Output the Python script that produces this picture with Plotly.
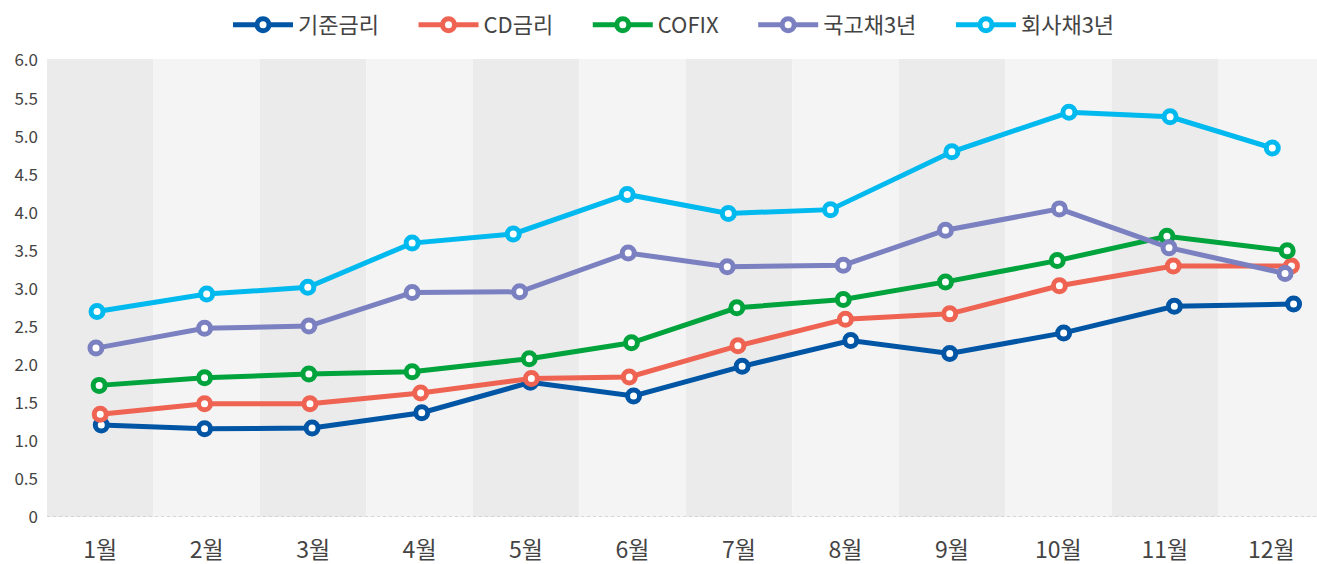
import plotly.graph_objects as go

months = ["1월", "2월", "3월", "4월", "5월", "6월", "7월", "8월", "9월", "10월", "11월", "12월"]
yticks = [0, 0.5, 1.0, 1.5, 2.0, 2.5, 3.0, 3.5, 4.0, 4.5, 5.0, 5.5, 6.0]
ytick_labels = ["0", "0.5", "1.0", "1.5", "2.0", "2.5", "3.0", "3.5", "4.0", "4.5", "5.0", "5.5", "6.0"]

names = ["기준금리", "CD금리", "COFIX", "국고채3년", "회사채3년"]

base_x = [0.01, 0.98, 1.99, 3.02, 4.04, 5.01, 6.03, 7.05, 7.98, 9.05, 10.09, 11.21]
base_y = [1.21, 1.16, 1.17, 1.37, 1.77, 1.59, 1.98, 2.32, 2.15, 2.42, 2.77, 2.80]

cd_x = [0.00, 0.98, 1.97, 3.01, 4.05, 4.97, 5.99, 7.00, 7.98, 9.01, 10.08, 11.19]
cd_y = [1.35, 1.49, 1.49, 1.63, 1.82, 1.84, 2.25, 2.60, 2.67, 3.04, 3.30, 3.30]

cofix_x = [-0.01, 0.98, 1.96, 2.93, 4.03, 4.99, 5.98, 6.98, 7.94, 8.99, 10.02, 11.15]
cofix_y = [1.73, 1.83, 1.88, 1.91, 2.08, 2.29, 2.75, 2.86, 3.09, 3.37, 3.69, 3.50]

gov_x = [-0.04, 0.98, 1.96, 2.93, 3.94, 4.96, 5.89, 6.98, 7.94, 9.01, 10.04, 11.13]
gov_y = [2.22, 2.48, 2.51, 2.95, 2.96, 3.47, 3.29, 3.31, 3.77, 4.05, 3.54, 3.20]

corp_x = [-0.03, 1.00, 1.95, 2.93, 3.88, 4.95, 5.90, 6.86, 8.00, 9.10, 10.05, 11.01]
corp_y = [2.70, 2.93, 3.02, 3.60, 3.72, 4.24, 3.99, 4.04, 4.80, 5.32, 5.26, 4.85]

colors = ["#0055A4", "#EE6352", "#00A33C", "#7B80C0", "#00B9EE"]
series = [(base_x, base_y), (cd_x, cd_y), (cofix_x, cofix_y), (gov_x, gov_y), (corp_x, corp_y)]

FONT = "Noto Sans CJK KR"
PAD = "\u00a0" * 6

fig = go.Figure()
for k, ((xs, ys), name, c) in enumerate(zip(series, names, colors)):
    label = name + (PAD if k < len(names) - 1 else "")
    fig.add_trace(go.Scatter(
        x=xs, y=ys, name=label, mode="lines+markers",
        line=dict(color=c, width=5),
        marker=dict(symbol="circle", size=12, color="white", line=dict(color=c, width=5)),
    ))

shapes = []
for i in range(len(months)):
    shapes.append(dict(
        type="rect", xref="x", yref="paper", x0=i - 0.5, x1=i + 0.5, y0=0, y1=1,
        fillcolor="#EBEBEB" if i % 2 == 0 else "#F4F4F4", line=dict(width=0), layer="below",
    ))
shapes.append(dict(
    type="line", xref="paper", yref="y", x0=0, x1=1, y0=0, y1=0,
    line=dict(color="#BBBBBB", width=1, dash="dot"), layer="below",
))

fig.update_layout(
    width=1317, height=564,
    margin=dict(l=47, r=0, t=59, b=47, autoexpand=False),
    paper_bgcolor="white", plot_bgcolor="white",
    font=dict(family=FONT, color="#444444"),
    shapes=shapes,
    showlegend=True,
    hovermode=False,
    legend=dict(
        orientation="h", xref="container", yref="container",
        x=674 / 1317, xanchor="center", y=1 - 25 / 564, yanchor="middle",
        font=dict(size=22, family=FONT, color="#444444"),
        itemwidth=60, tracegroupgap=0,
        bgcolor="rgba(0,0,0,0)",
    ),
    xaxis=dict(
        range=[-0.5, 11.43], tickvals=list(range(len(months))), ticktext=months,
        showgrid=False, zeroline=False, showline=False, ticks="",
        tickfont=dict(size=23, family=FONT, color="#444444"),
        automargin=False, ticklabelstandoff=17,
    ),
    yaxis=dict(
        range=[0, 6.02], tickvals=yticks, ticktext=ytick_labels,
        showgrid=False, zeroline=False, showline=False, ticks="",
        tickfont=dict(size=17, family=FONT, color="#444444"),
        automargin=False, ticklabelstandoff=8,
    ),
)

fig.write_html(
    "out.html",
    config={"displayModeBar": False},
    post_script="document.body.style.margin='0';document.body.style.overflow='hidden';",
)
